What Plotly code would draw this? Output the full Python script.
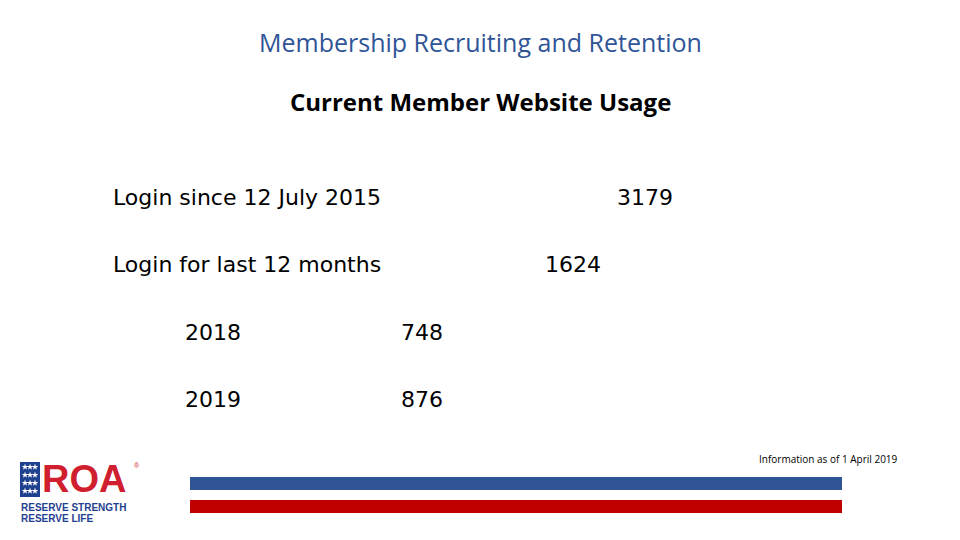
import plotly.graph_objects as go

row_labels = ["Login since 12 July 2015", "Login for last 12 months", "2018", "2019"]
row_values = [3179, 1624, 748, 876]
label_x = [113, 113, 185, 185]
value_x = [645, 573, 422, 422]
row_y = [199, 266, 334, 401]

fig = go.Figure()
fig.add_trace(go.Scatter(x=label_x, y=row_y, mode="text", text=row_labels,
                         textposition="middle right",
                         textfont=dict(family="DejaVu Sans", size=22, color="black"),
                         hoverinfo="skip"))
fig.add_trace(go.Scatter(x=value_x, y=row_y, mode="text", text=[str(v) for v in row_values],
                         textposition="middle center",
                         textfont=dict(family="DejaVu Sans", size=22, color="black"),
                         hoverinfo="skip"))

ann = [
    dict(x=480, y=42, text="Membership Recruiting and Retention",
         font=dict(family="Open Sans", size=25, color="#2F5597")),
    dict(x=480, y=101, text="<b>Current Member Website Usage</b>",
         font=dict(family="Open Sans", size=24, color="black")),
    dict(x=900, y=459, text="Information as of 1 April 2019", xanchor="right",
         font=dict(family="Open Sans", size=10, color="black")),
    dict(x=40, y=479, text="<b>ROA</b>", xanchor="left",
         font=dict(family="Liberation Sans", size=38, color="#D01F2E")),
    dict(x=132, y=465, text="®", xanchor="left",
         font=dict(family="Liberation Sans", size=7, color="#D01F2E")),
    dict(x=19, y=507, text="<b>RESERVE STRENGTH</b>", xanchor="left",
         font=dict(family="Liberation Sans", size=10, color="#1F3F8F")),
    dict(x=19, y=518, text="<b>RESERVE LIFE</b>", xanchor="left",
         font=dict(family="Liberation Sans", size=10, color="#1F3F8F")),
]
for a in ann:
    a.update(xref="x", yref="y", showarrow=False)
fig.update_layout(annotations=ann)

shapes = [
    dict(type="rect", x0=190, x1=842, y0=477, y1=490, fillcolor="#2F5597", line_width=0),
    dict(type="rect", x0=190, x1=842, y0=500, y1=513, fillcolor="#C00000", line_width=0),
    dict(type="rect", x0=20, x1=40, y0=462, y1=497, fillcolor="#1F3F8F", line_width=0, layer="below"),
]
fig.update_layout(shapes=shapes)
fig.add_trace(go.Scatter(x=[25, 30, 35, 25, 30, 35, 25, 30, 35, 25, 30, 35],
                         y=[467, 467, 467, 475, 475, 475, 483, 483, 483, 491, 491, 491],
                         mode="markers", marker=dict(symbol="star", size=5, color="white"),
                         hoverinfo="skip"))

fig.update_layout(width=960, height=540, margin=dict(l=0, r=0, t=0, b=0),
                  plot_bgcolor="white", paper_bgcolor="white", showlegend=False,
                  xaxis=dict(range=[8, 968], visible=False, fixedrange=True),
                  yaxis=dict(range=[548, 8], visible=False, fixedrange=True))
fig.write_html("out.html")
